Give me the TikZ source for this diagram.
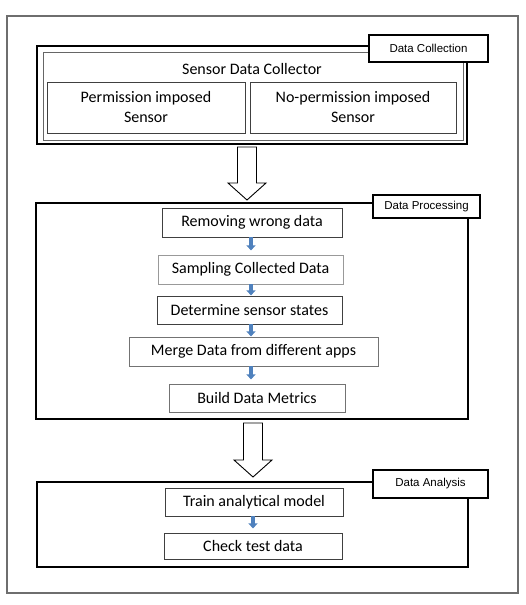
\documentclass[tikz,border=0pt]{standalone}
\usepackage{fontspec}
\setmainfont{Carlito}
\newfontfamily\labelfont{Liberation Sans}
\definecolor{frame1}{RGB}{110, 110, 110}
\definecolor{flow1}{RGB}{79, 129, 189}
\usetikzlibrary{arrows.meta, positioning}

\begin{document}
\begin{tikzpicture}[x=1pt, y=-1pt,
    stage/.style={draw, line width=1.8pt, inner sep=0pt},
    tag/.style={draw, line width=1.8pt, fill=white, inner sep=0pt, font=\labelfont\fontsize{11.5}{13}\selectfont},
    task/.style={draw=black!75, line width=0.8pt, inner sep=0pt, font=\fontsize{16}{20}\selectfont, align=center},
    flow/.style={draw=flow1, line width=4pt, -{Triangle[width=9pt, length=5pt]}},
    hollow/.style={draw, line width=0.9pt, fill=white, line join=miter}]
  \useasboundingbox (0,0) rectangle (526,605);
  \node[draw=frame1, line width=2pt, minimum width=511pt, minimum height=577pt] (frame) at (262.5,304.5) {};

  % data collection
  \node[stage, minimum width=430pt, minimum height=98pt] (col) at (252,95) {};
  \node[draw=black!60, line width=0.8pt, minimum width=420pt, minimum height=88pt] (colin) at (253,96) {};
  \node[font=\fontsize{16}{20}\selectfont] (sdc) at (252,69) {Sensor Data Collector};
  \node[task, minimum width=198pt, minimum height=51pt] (perm) at (146,107.5) {Permission imposed\\Sensor};
  \node[task, minimum width=206pt, minimum height=51pt] (noperm) at (353,107.5) {No-permission imposed\\Sensor};
  \node[tag, minimum width=119pt, minimum height=27pt] (colTag) at (428.5,48.5) {Data Collection};

  \coordinate (tipA) at (247,200);
  \draw[hollow] (tipA) -- ++(19,-17) -- ++(-9.5,0) -- ++(0,-36) -- ++(-19,0) -- ++(0,36) -- ++(-9.5,0) -- cycle;

  % data processing
  \node[stage, line width=1.3pt, minimum width=432pt, minimum height=216pt] (proc) at (252,311) {};
  \node[tag, minimum width=107pt, minimum height=23pt] (procTag) at (426.5,206.5) {Data Processing};
  \node[task, minimum width=180pt, minimum height=29pt] (rm) at (252,222.5) {Removing wrong data};
  \node[task, draw=black!40, minimum width=185pt, minimum height=29pt] (smp) at (250.5,269.5) {Sampling Collected Data};
  \node[task, minimum width=185pt, minimum height=28pt] (det) at (249.5,310) {Determine sensor states};
  \node[task, draw=black!55, minimum width=249pt, minimum height=29pt] (mrg) at (253.5,351.5) {Merge Data from different apps};
  \node[task, draw=black!55, minimum width=176pt, minimum height=28pt] (bdm) at (257,398) {Build Data Metrics};
  \draw[flow] (rm.south -| 251,0) -- ++(0,13);
  \draw[flow] (smp.south -| 251,0) -- ++(0,11);
  \draw[flow] (det.south -| 251,0) -- ++(0,12);
  \draw[flow] (mrg.south -| 251,0) -- ++(0,13);

  \coordinate (tipB) at (253,477);
  \draw[hollow] (tipB) -- ++(19,-17) -- ++(-9.5,0) -- ++(0,-37) -- ++(-19,0) -- ++(0,37) -- ++(-9.5,0) -- cycle;

  % data analysis
  \node[stage, minimum width=431pt, minimum height=85pt] (ana) at (252.5,524.5) {};
  \node[tag, minimum width=115pt, minimum height=28pt] (anaTag) at (430.5,484) {Data Analysis};
  \node[task, minimum width=178pt, minimum height=28pt] (trn) at (254,502) {Train analytical model};
  \node[task, minimum width=178pt, minimum height=26pt] (chk) at (253,546) {Check test data};
  \draw[flow] (trn.south -| 253,0) -- ++(0,12);
\end{tikzpicture}
\end{document}
